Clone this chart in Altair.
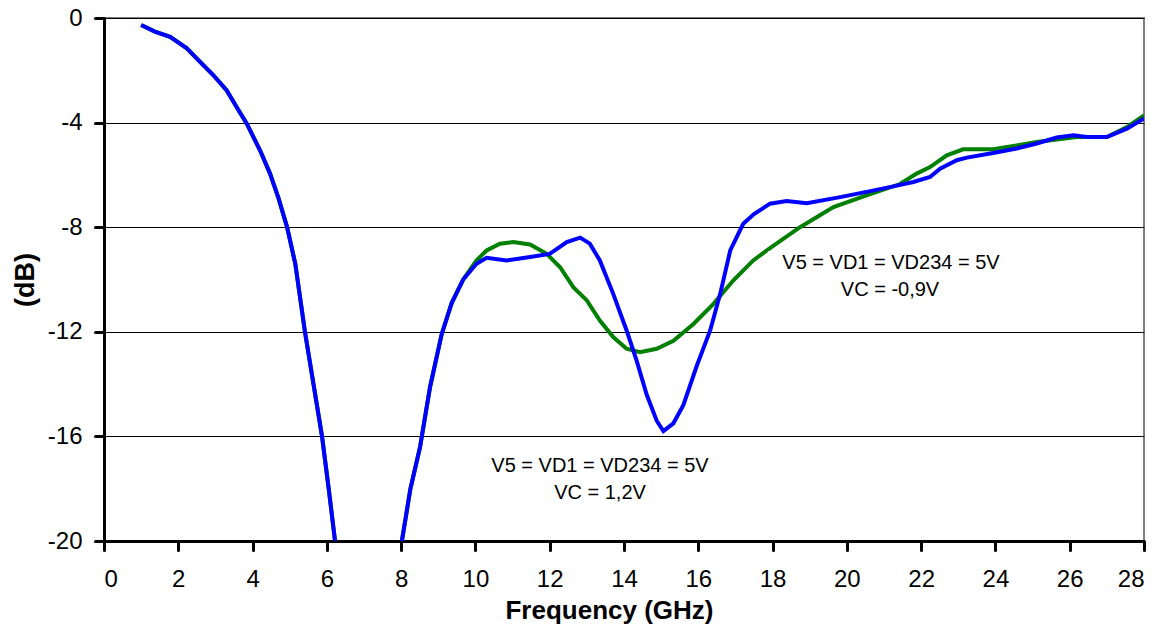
import altair as alt
import pandas as pd

# Frequency (GHz) and level (dB)
blue_f = [1.0, 1.37, 1.78, 2.23, 2.58, 2.94, 3.30, 3.57, 3.84, 4.20, 4.47, 4.70, 4.93,
          5.15, 5.41, 5.64, 5.87, 6.05, 6.22, 6.6, 7.1, 7.6, 8.02, 8.25, 8.51, 8.78,
          9.09, 9.36, 9.67, 10.03, 10.30, 10.84, 11.47, 12.0, 12.46, 12.82, 13.08,
          13.35, 13.71, 14.07, 14.34, 14.61, 14.88, 15.06, 15.33, 15.6, 15.96, 16.32,
          16.59, 16.86, 17.21, 17.5, 17.93, 18.38, 18.92, 19.82, 20.53, 21.25, 21.79,
          22.24, 22.51, 22.96, 23.23, 23.94, 24.57, 25.11, 25.65, 26.1, 26.46, 27.0,
          27.54, 28.0]
blue_db = [-0.27, -0.52, -0.72, -1.16, -1.67, -2.18, -2.76, -3.40, -4.03, -5.06, -5.95,
           -6.9, -8.0, -9.4, -12.0, -14.0, -16.0, -18.0, -20.0, -26.0, -30.0, -26.0,
           -20.0, -18.0, -16.4, -14.1, -12.1, -10.9, -10.0, -9.40, -9.17, -9.27, -9.14,
           -9.02, -8.57, -8.40, -8.63, -9.27, -10.55, -11.95, -13.1, -14.4, -15.4,
           -15.8, -15.5, -14.8, -13.3, -11.95, -10.55, -8.89, -7.87, -7.5, -7.10, -7.0,
           -7.08, -6.85, -6.65, -6.44, -6.27, -6.08, -5.76, -5.44, -5.34, -5.16, -4.99,
           -4.80, -4.57, -4.48, -4.55, -4.55, -4.23, -3.84]

green_f = [1.0, 1.37, 1.78, 2.23, 2.58, 2.94, 3.30, 3.57, 3.84, 4.20, 4.47, 4.70, 4.93,
           5.15, 5.41, 5.64, 5.87, 6.05, 6.22, 6.6, 7.1, 7.6, 8.02, 8.25, 8.51, 8.78,
           9.09, 9.36, 9.67, 10.03, 10.30, 10.66, 11.02, 11.47, 11.92, 12.28, 12.64,
           13.0, 13.35, 13.71, 14.07, 14.43, 14.88, 15.33, 15.87, 16.41, 16.94, 17.48,
           17.93, 18.74, 19.64, 20.53, 21.43, 21.88, 22.24, 22.69, 23.13, 23.94, 24.57,
           25.11, 25.65, 26.19, 27.0, 27.54, 28.0]
green_db = [-0.27, -0.52, -0.72, -1.16, -1.67, -2.18, -2.76, -3.40, -4.03, -5.06, -5.95,
            -6.9, -8.0, -9.4, -12.0, -14.0, -16.0, -18.0, -20.0, -26.0, -30.0, -26.0,
            -20.0, -18.0, -16.4, -14.1, -12.1, -10.9, -10.0, -9.27, -8.89, -8.63, -8.57,
            -8.66, -9.02, -9.53, -10.3, -10.8, -11.57, -12.2, -12.65, -12.78, -12.65,
            -12.34, -11.7, -10.93, -10.04, -9.27, -8.8, -8.0, -7.23, -6.78, -6.35, -5.95,
            -5.70, -5.25, -5.02, -5.02, -4.87, -4.74, -4.65, -4.55, -4.55, -4.17, -3.72]

x_ticks = list(range(0, 29, 2))
y_ticks = [0, -4, -8, -12, -16, -20]

annot_top = ["V5 = VD1 = VD234 = 5V", "VC = -0,9V"]
annot_bottom = ["V5 = VD1 = VD234 = 5V", "VC = 1,2V"]

FONT = "Liberation Sans"
W, H = 1040, 523

xscale = alt.Scale(domain=[0, 28], nice=False)
yscale = alt.Scale(domain=[-20, 0], nice=False)

xaxis = alt.Axis(values=x_ticks, title="Frequency (GHz)", grid=False,
                 domainColor="black", domainWidth=3, tickColor="black", tickWidth=3,
                 tickSize=9, tickCap="round", labelFontSize=24, labelPadding=17,
                 labelColor="black", labelFont=FONT,
                 titleFont=FONT, titleFontSize=26, titleFontWeight="bold",
                 titleColor="black", titleX=505, titleY=69, titleBaseline="middle",
                 titleAlign="center")
yaxis = alt.Axis(values=y_ticks, title="(dB)", grid=True, gridColor="black",
                 gridWidth=1, gridOpacity=1,
                 domainColor="black", domainWidth=3, tickColor="black", tickWidth=3,
                 tickSize=9, tickCap="round", labelFontSize=24, labelPadding=13,
                 labelColor="black", labelFont=FONT, labelExpr="'' + datum.value",
                 titleFont=FONT, titleFontSize=27, titleFontWeight="bold",
                 titleColor="black", titleAngle=270, titleX=-79, titleY=H / 2,
                 titleBaseline="middle", titleAlign="center")

green_df = pd.DataFrame({"f": green_f, "db": green_db})
blue_df = pd.DataFrame({"f": blue_f, "db": blue_db})

green = alt.Chart(green_df).mark_line(color="#008000", strokeWidth=4, clip=True).encode(
    x=alt.X("f:Q", scale=xscale, axis=xaxis),
    y=alt.Y("db:Q", scale=yscale, axis=yaxis),
    order="f:Q",
)
blue = alt.Chart(blue_df).mark_line(color="#0000FF", strokeWidth=4, clip=True).encode(
    x=alt.X("f:Q", scale=xscale),
    y=alt.Y("db:Q", scale=yscale),
    order="f:Q",
)

# white background box of the upper annotation (it interrupts the green trace)
box = alt.Chart(pd.DataFrame({"k": [0]})).mark_rect(color="white").encode(
    x=alt.value(664), x2=alt.value(906), y=alt.value(233), y2=alt.value(285)
)


def label(text, px, py):
    return alt.Chart(pd.DataFrame({"t": [text]})).mark_text(
        font=FONT, fontSize=20, color="black", align="center", baseline="middle"
    ).encode(text="t:N", x=alt.value(px), y=alt.value(py))


texts = [
    label(annot_top[0], 787, 245),
    label(annot_top[1], 786, 272),
    label(annot_bottom[0], 496, 448),
    label(annot_bottom[1], 496, 475),
]

chart = alt.layer(green, box, blue, *texts).properties(
    width=W, height=H,
    autosize=alt.AutoSizeParams(type="none"),
    padding={"left": 96, "top": 10, "right": 16, "bottom": 84},
).configure_view(stroke="#808080", strokeWidth=2)

chart.save("out.html", embed_options={"renderer": "svg", "actions": False})
